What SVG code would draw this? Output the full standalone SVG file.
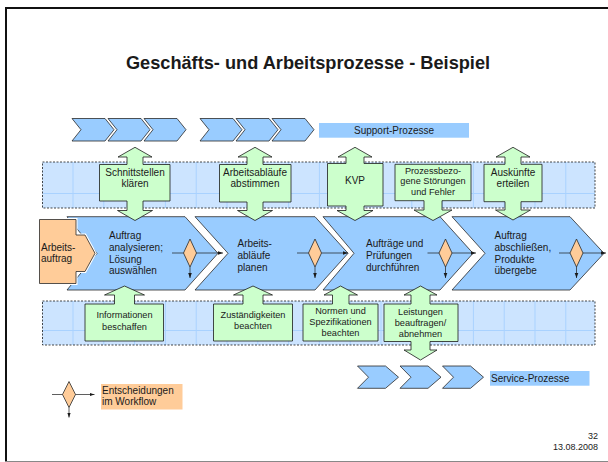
<svg xmlns="http://www.w3.org/2000/svg" width="608" height="462" viewBox="0 0 608 462">
<style>
text{font-family:"Liberation Sans",Arial,sans-serif;fill:#1a1a1a}
.blue{fill:#99CCFF;stroke:#2a2a2a;stroke-width:0.8}
.green{fill:#CCFFCC;stroke:#1a1a1a;stroke-width:0.8}
.orange{fill:#FFCC99;stroke:#2a2a2a;stroke-width:0.8}
.band{stroke:#1a1a1a;stroke-width:0.8;stroke-dasharray:2,1.5}
.ln{stroke:#1a1a1a;stroke-width:0.7;fill:none}
.t10{font-size:10px}
.t9{font-size:9.2px}
.c{text-anchor:middle}
</style>
<defs>
<pattern id="g1" patternUnits="userSpaceOnUse" x="72.5" y="193" width="30.8" height="100">
<rect width="30.8" height="100" fill="#CCE4FF"/>
<path d="M0.5,0V100M0,0.5H30.8" stroke="#A9D2FF" stroke-width="1"/>
</pattern>
<pattern id="g2" patternUnits="userSpaceOnUse" x="72.5" y="330" width="30.8" height="100">
<rect width="30.8" height="100" fill="#CCE4FF"/>
<path d="M0.5,0V100M0,0.5H30.8" stroke="#A9D2FF" stroke-width="1"/>
</pattern>
<marker id="ah" markerUnits="userSpaceOnUse" markerWidth="6" markerHeight="6" refX="5" refY="3" orient="auto">
<path d="M0,1.2L5,3L0,4.8Z" fill="#1a1a1a"/>
</marker>
</defs>
<rect width="608" height="462" fill="#fff"/>
<path d="M6,461.5V8H608" fill="none" stroke="#111" stroke-width="2"/>
<path d="M6,461.5H608" stroke="#888" stroke-width="1.2"/>
<text x="308" y="69" font-size="18.2" font-weight="bold" class="c">Geschäfts- und Arbeitsprozesse - Beispiel</text>

<g id="bands">
<rect x="42.5" y="162" width="552.5" height="46" fill="url(#g1)" class="band"/>
<rect x="42.5" y="301" width="552.5" height="44" fill="url(#g2)" class="band"/>
</g>

<g id="support">
<path class="blue" d="M72,118.5H105L114,129.7L105,141H72L81,129.7Z"/>
<path class="blue" d="M108,118.5H141L150,129.7L141,141H108L117,129.7Z"/>
<path class="blue" d="M144,118.5H177L186,129.7L177,141H144L153,129.7Z"/>
<path class="blue" d="M200,118.5H233L242,129.7L233,141H200L209,129.7Z"/>
<path class="blue" d="M236,118.5H269L278,129.7L269,141H236L245,129.7Z"/>
<path class="blue" d="M272,118.5H305L314,129.7L305,141H272L281,129.7Z"/>
<rect x="319" y="123" width="150" height="14.7" fill="#99CCFF"/>
<text x="394" y="133.5" class="t10 c">Support-Prozesse</text>
</g>

<g id="service">
<path class="blue" d="M357.5,366H385.5L398.5,377.2L385.5,388.3H357.5L368.5,377.2Z"/>
<path class="blue" d="M400,366H428L441,377.2L428,388.3H400L411,377.2Z"/>
<path class="blue" d="M442.5,366H470.5L483.5,377.2L470.5,388.3H442.5L453.5,377.2Z"/>
<rect x="490" y="371" width="99.5" height="14.7" fill="#99CCFF"/>
<text x="491" y="381.5" class="t10">Service-Prozesse</text>
</g>

<g id="p1">
<path class="blue" d="M67,216.7H185L218,253.3L185,290H67L97,253.3Z"/>
<text class="t10"><tspan x="109" y="239.3">Auftrag</tspan><tspan x="109" y="251">analysieren;</tspan><tspan x="109" y="262.6">Lösung</tspan><tspan x="109" y="274.3">auswählen</tspan></text>
</g>
<g id="p2">
<path class="blue" d="M195,216.7H315L348,253.3L315,290H195L228,253.3Z"/>
<text class="t10"><tspan x="237.5" y="247.3">Arbeits-</tspan><tspan x="237.5" y="259">abläufe</tspan><tspan x="237.5" y="270.7">planen</tspan></text>
</g>
<g id="p3">
<path class="blue" d="M323,216.7H440L473,253.3L440,290H323L354,253.3Z"/>
<text class="t10"><tspan x="366" y="247">Aufträge und</tspan><tspan x="366" y="259">Prüfungen</tspan><tspan x="366" y="270.7">durchführen</tspan></text>
</g>
<g id="p4">
<path class="blue" d="M452,216.7H570L604,253.3L570,290H452L485,253.3Z"/>
<text class="t10"><tspan x="494.5" y="239.3">Auftrag</tspan><tspan x="494.5" y="251">abschließen,</tspan><tspan x="494.5" y="262.6">Produkte</tspan><tspan x="494.5" y="274.3">übergebe</tspan></text>
</g>

<g id="arbeitsauftrag">
<path d="M39.5,219.5H76V235H85L95,253.3L85,271.5H76V283.5H39.5Z" fill="#FFCC99" stroke="#fff" stroke-width="3"/>
<path class="orange" d="M39.5,219.5H76V235H85L95,253.3L85,271.5H76V283.5H39.5Z"/>
<text class="t10"><tspan x="41" y="251">Arbeits-</tspan><tspan x="41" y="262">auftrag</tspan></text>
</g>

<g id="d1"><path class="orange" d="M190,239L196.5,253L190,267L183.5,253Z"/></g>
<g id="d2"><path class="orange" d="M315,239L321.5,253L315,267L308.5,253Z"/></g>
<g id="d3"><path class="orange" d="M445.5,239L452,253L445.5,267L439,253Z"/></g>
<g id="d4"><path class="orange" d="M576.5,239L583,253L576.5,267L570,253Z"/></g>

<g id="a-schnitt">
<path class="green" d="M135,147.3L152,157H143V164.5H170V201H143V210.5H152.5L135,220.5L117.5,210.5H127V201H99.5V164.5H127V157H118Z"/>
<text class="t10 c"><tspan x="135" y="175.7">Schnittstellen</tspan><tspan x="135" y="187.3">klären</tspan></text>
</g>
<g id="a-abstimmen">
<path class="green" d="M255,147.3L272,157H263V164.5H291V202H263V210.5H272.5L255,220.5L237.5,210.5H247V202H219.5V164.5H247V157H238Z"/>
<text class="t10 c"><tspan x="255" y="175.7">Arbeitsabläufe</tspan><tspan x="255" y="187.3">abstimmen</tspan></text>
</g>
<g id="a-kvp">
<path class="green" d="M355,147.3L372,157H364V163.5H383V206H364V210.5H373L355,220.5L337,210.5H346V206H327.5V163.5H346V157H338Z"/>
<text class="t10 c" x="355" y="184">KVP</text>
</g>
<g id="a-stoerungen">
<path class="green" d="M395,164.3H471V200.7H442V210H452L433,220.5L414,210H424V200.7H395Z"/>
<text class="t9 c"><tspan x="433" y="173.5">Prozessbezo-</tspan><tspan x="433" y="184">gene Störungen</tspan><tspan x="433" y="194.5">und Fehler</tspan></text>
</g>
<g id="a-auskuenfte">
<path class="green" d="M513,147.3L530,157H521V164.3H542V201.7H521V210H530.5L513,220L495.5,210H505V201.7H484V164.3H505V157H496Z"/>
<text class="t10 c"><tspan x="513" y="175.7">Auskünfte</tspan><tspan x="513" y="187.3">erteilen</tspan></text>
</g>

<g id="a-info">
<path class="green" d="M124.5,286L144.5,295H134.5V304H163.5V341H85V304H114.5V295H104.5Z"/>
<text class="t9 c"><tspan x="124.5" y="318.3">Informationen</tspan><tspan x="124.5" y="329.5">beschaffen</tspan></text>
</g>
<g id="a-zust">
<path class="green" d="M253,286L272.5,295H263V304H292.5V341H213.5V304H243V295H233.5Z"/>
<text class="t9 c"><tspan x="253" y="317.5">Zuständigkeiten</tspan><tspan x="253" y="328.5">beachten</tspan></text>
</g>
<g id="a-normen">
<path class="green" d="M340.5,286L357.5,295H349V304H378V341H303V304H332.5V295H324Z"/>
<text class="t9 c"><tspan x="340.5" y="314.3">Normen und</tspan><tspan x="340.5" y="325">Spezifikationen</tspan><tspan x="340.5" y="335.7">beachten</tspan></text>
</g>
<g id="a-leistungen">
<path class="green" d="M420.5,286L437,295H430V304H458V341.5H430V350H437L420.5,360L404,350H411V341.5H384V304H411V295H404Z"/>
<text class="t9 c"><tspan x="420.5" y="315">Leistungen</tspan><tspan x="420.5" y="326">beauftragen/</tspan><tspan x="420.5" y="336.7">abnehmen</tspan></text>
</g>

<g id="legend">
<path class="orange" d="M69,381.5L75.5,394.5L69,407.5L62.5,394.5Z"/>
<rect x="101" y="384" width="81.5" height="25.5" fill="#FFCC99"/>
<text class="t10"><tspan x="102" y="394">Entscheidungen</tspan><tspan x="102" y="405">im Workflow</tspan></text>
</g>

<g id="connectors">
<path class="ln" d="M172,253H183.5"/>
<path class="ln" d="M196.5,253H223" marker-end="url(#ah)"/>
<path class="ln" d="M190,267V278" marker-end="url(#ah)"/>
<path class="ln" d="M297,253H308.5"/>
<path class="ln" d="M321.5,253H348" marker-end="url(#ah)"/>
<path class="ln" d="M315,267V278" marker-end="url(#ah)"/>
<path class="ln" d="M427.5,253H439"/>
<path class="ln" d="M452,253H476" marker-end="url(#ah)"/>
<path class="ln" d="M445.5,267V278" marker-end="url(#ah)"/>
<path class="ln" d="M559,253H570"/>
<path class="ln" d="M583,253H606" marker-end="url(#ah)"/>
<path class="ln" d="M576.5,267V278" marker-end="url(#ah)"/>
<path class="ln" d="M52,394.5H62.5"/>
<path class="ln" d="M75.5,394.5H94.5" marker-end="url(#ah)"/>
<path class="ln" d="M69,407.5V417.5" marker-end="url(#ah)"/>
</g>

<text x="598" y="438.5" font-size="9" text-anchor="end" fill="#333">32</text>
<text x="598" y="449.5" font-size="9" text-anchor="end" fill="#333">13.08.2008</text>
</svg>
